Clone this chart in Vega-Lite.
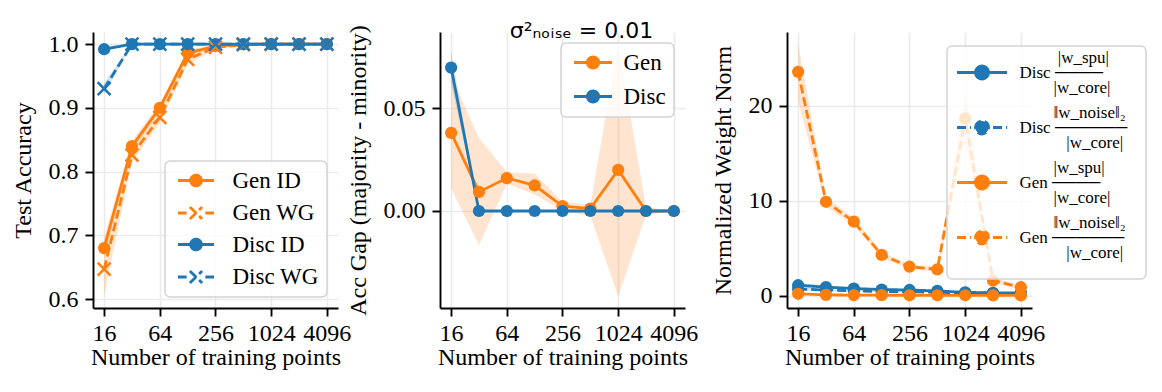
{
  "$schema": "https://vega.github.io/schema/vega-lite/v6.json",
  "background": "white",
  "padding": {"left": 11, "top": 19, "right": 5, "bottom": 5},
  "spacing": 102,
  "bounds": "flush",
  "resolve": {"scale": {"color": "independent", "strokeDash": "independent"}, "legend": {"color": "independent", "strokeDash": "independent"}},
  "config": {
    "view": {"stroke": null},
    "font": "Liberation Serif",
    "axis": {"domainColor": "black", "domainWidth": 1.9, "tickColor": "black", "tickWidth": 1.9, "tickSize": 8, "labelPadding": 7, "labelFont": "Liberation Serif", "labelFontSize": 24, "labelColor": "black", "titleFont": "Liberation Serif", "titleFontSize": 24, "titleFontWeight": "normal", "titleColor": "black", "gridColor": "#ebebeb", "gridWidth": 1.6, "labelOverlap": false, "labelFlush": false},
    "axisX": {"titlePadding": 0, "labelPadding": 5},
    "axisY": {"titlePadding": 13},
    "legend": {"labelFont": "Liberation Serif", "labelColor": "black", "strokeColor": "#d4d4d4", "strokeWidth": 1.5, "fillColor": "rgba(255,255,255,0.8)", "cornerRadius": 5, "padding": 8}
  },
  "datasets": {
    "acc": [
      {"n": 16, "series": "Gen ID", "mean": 0.680, "lo": 0.664, "hi": 0.697},
      {"n": 32, "series": "Gen ID", "mean": 0.840, "lo": 0.832, "hi": 0.848},
      {"n": 64, "series": "Gen ID", "mean": 0.900, "lo": 0.893, "hi": 0.907},
      {"n": 128, "series": "Gen ID", "mean": 0.986, "lo": 0.981, "hi": 0.991},
      {"n": 256, "series": "Gen ID", "mean": 0.997, "lo": 0.995, "hi": 0.999},
      {"n": 512, "series": "Gen ID", "mean": 0.9995, "lo": 0.999, "hi": 1.0},
      {"n": 1024, "series": "Gen ID", "mean": 1.0, "lo": 1.0, "hi": 1.0},
      {"n": 2048, "series": "Gen ID", "mean": 1.0, "lo": 1.0, "hi": 1.0},
      {"n": 4096, "series": "Gen ID", "mean": 1.0, "lo": 1.0, "hi": 1.0},
      {"n": 16, "series": "Gen WG", "mean": 0.647, "lo": 0.605, "hi": 0.690},
      {"n": 32, "series": "Gen WG", "mean": 0.826, "lo": 0.815, "hi": 0.838},
      {"n": 64, "series": "Gen WG", "mean": 0.885, "lo": 0.876, "hi": 0.894},
      {"n": 128, "series": "Gen WG", "mean": 0.976, "lo": 0.968, "hi": 0.984},
      {"n": 256, "series": "Gen WG", "mean": 0.995, "lo": 0.992, "hi": 0.998},
      {"n": 512, "series": "Gen WG", "mean": 0.999, "lo": 0.998, "hi": 1.0},
      {"n": 1024, "series": "Gen WG", "mean": 1.0, "lo": 0.9995, "hi": 1.0},
      {"n": 2048, "series": "Gen WG", "mean": 1.0, "lo": 1.0, "hi": 1.0},
      {"n": 4096, "series": "Gen WG", "mean": 1.0, "lo": 1.0, "hi": 1.0},
      {"n": 16, "series": "Disc ID", "mean": 0.992, "lo": 0.988, "hi": 0.996},
      {"n": 32, "series": "Disc ID", "mean": 1.0, "lo": 1.0, "hi": 1.0},
      {"n": 64, "series": "Disc ID", "mean": 1.0, "lo": 1.0, "hi": 1.0},
      {"n": 128, "series": "Disc ID", "mean": 1.0, "lo": 1.0, "hi": 1.0},
      {"n": 256, "series": "Disc ID", "mean": 1.0, "lo": 1.0, "hi": 1.0},
      {"n": 512, "series": "Disc ID", "mean": 1.0, "lo": 1.0, "hi": 1.0},
      {"n": 1024, "series": "Disc ID", "mean": 1.0, "lo": 1.0, "hi": 1.0},
      {"n": 2048, "series": "Disc ID", "mean": 1.0, "lo": 1.0, "hi": 1.0},
      {"n": 4096, "series": "Disc ID", "mean": 1.0, "lo": 1.0, "hi": 1.0},
      {"n": 16, "series": "Disc WG", "mean": 0.930, "lo": 0.921, "hi": 0.939},
      {"n": 32, "series": "Disc WG", "mean": 1.0, "lo": 1.0, "hi": 1.0},
      {"n": 64, "series": "Disc WG", "mean": 1.0, "lo": 1.0, "hi": 1.0},
      {"n": 128, "series": "Disc WG", "mean": 1.0, "lo": 1.0, "hi": 1.0},
      {"n": 256, "series": "Disc WG", "mean": 1.0, "lo": 1.0, "hi": 1.0},
      {"n": 512, "series": "Disc WG", "mean": 1.0, "lo": 1.0, "hi": 1.0},
      {"n": 1024, "series": "Disc WG", "mean": 1.0, "lo": 1.0, "hi": 1.0},
      {"n": 2048, "series": "Disc WG", "mean": 1.0, "lo": 1.0, "hi": 1.0},
      {"n": 4096, "series": "Disc WG", "mean": 1.0, "lo": 1.0, "hi": 1.0}
    ],
    "gap": [
      {"n": 16, "series": "Gen", "mean": 0.038, "lo": 0.011, "hi": 0.066},
      {"n": 32, "series": "Gen", "mean": 0.0093, "lo": -0.0165, "hi": 0.0355},
      {"n": 64, "series": "Gen", "mean": 0.016, "lo": 0.0132, "hi": 0.0188},
      {"n": 128, "series": "Gen", "mean": 0.0125, "lo": 0.008, "hi": 0.0183},
      {"n": 256, "series": "Gen", "mean": 0.0024, "lo": 0.0, "hi": 0.0045},
      {"n": 512, "series": "Gen", "mean": 0.0012, "lo": -0.0025, "hi": 0.003},
      {"n": 1024, "series": "Gen", "mean": 0.020, "lo": -0.0415, "hi": 0.081},
      {"n": 2048, "series": "Gen", "mean": 0.0, "lo": -0.002, "hi": 0.002},
      {"n": 4096, "series": "Gen", "mean": 0.0, "lo": 0.0, "hi": 0.0},
      {"n": 16, "series": "Disc", "mean": 0.0698, "lo": 0.062, "hi": 0.078},
      {"n": 32, "series": "Disc", "mean": 0.0, "lo": 0.0, "hi": 0.0},
      {"n": 64, "series": "Disc", "mean": 0.0, "lo": 0.0, "hi": 0.0},
      {"n": 128, "series": "Disc", "mean": 0.0, "lo": 0.0, "hi": 0.0},
      {"n": 256, "series": "Disc", "mean": 0.0, "lo": 0.0, "hi": 0.0},
      {"n": 512, "series": "Disc", "mean": 0.0, "lo": 0.0, "hi": 0.0},
      {"n": 1024, "series": "Disc", "mean": 0.0, "lo": 0.0, "hi": 0.0},
      {"n": 2048, "series": "Disc", "mean": 0.0, "lo": 0.0, "hi": 0.0},
      {"n": 4096, "series": "Disc", "mean": 0.0, "lo": 0.0, "hi": 0.0}
    ],
    "norm": [
      {"n": 16, "series": "Disc spu", "mean": 1.1, "lo": 0.8, "hi": 1.4},
      {"n": 32, "series": "Disc spu", "mean": 0.9, "lo": 0.75, "hi": 1.05},
      {"n": 64, "series": "Disc spu", "mean": 0.75, "lo": 0.65, "hi": 0.85},
      {"n": 128, "series": "Disc spu", "mean": 0.65, "lo": 0.55, "hi": 0.75},
      {"n": 256, "series": "Disc spu", "mean": 0.6, "lo": 0.5, "hi": 0.7},
      {"n": 512, "series": "Disc spu", "mean": 0.5, "lo": 0.42, "hi": 0.58},
      {"n": 1024, "series": "Disc spu", "mean": 0.35, "lo": 0.3, "hi": 0.4},
      {"n": 2048, "series": "Disc spu", "mean": 0.3, "lo": 0.25, "hi": 0.35},
      {"n": 4096, "series": "Disc spu", "mean": 0.3, "lo": 0.25, "hi": 0.35},
      {"n": 16, "series": "Disc noise", "mean": 0.7, "lo": 0.55, "hi": 0.85},
      {"n": 32, "series": "Disc noise", "mean": 0.6, "lo": 0.5, "hi": 0.7},
      {"n": 64, "series": "Disc noise", "mean": 0.5, "lo": 0.42, "hi": 0.58},
      {"n": 128, "series": "Disc noise", "mean": 0.45, "lo": 0.38, "hi": 0.52},
      {"n": 256, "series": "Disc noise", "mean": 0.4, "lo": 0.34, "hi": 0.46},
      {"n": 512, "series": "Disc noise", "mean": 0.35, "lo": 0.3, "hi": 0.4},
      {"n": 1024, "series": "Disc noise", "mean": 0.3, "lo": 0.25, "hi": 0.35},
      {"n": 2048, "series": "Disc noise", "mean": 0.25, "lo": 0.2, "hi": 0.3},
      {"n": 4096, "series": "Disc noise", "mean": 0.2, "lo": 0.15, "hi": 0.25},
      {"n": 16, "series": "Gen spu", "mean": 0.2, "lo": 0.15, "hi": 0.25},
      {"n": 32, "series": "Gen spu", "mean": 0.08, "lo": 0.06, "hi": 0.1},
      {"n": 64, "series": "Gen spu", "mean": 0.06, "lo": 0.04, "hi": 0.08},
      {"n": 128, "series": "Gen spu", "mean": 0.05, "lo": 0.03, "hi": 0.07},
      {"n": 256, "series": "Gen spu", "mean": 0.04, "lo": 0.03, "hi": 0.05},
      {"n": 512, "series": "Gen spu", "mean": 0.04, "lo": 0.03, "hi": 0.05},
      {"n": 1024, "series": "Gen spu", "mean": 0.04, "lo": 0.03, "hi": 0.05},
      {"n": 2048, "series": "Gen spu", "mean": 0.03, "lo": 0.02, "hi": 0.04},
      {"n": 4096, "series": "Gen spu", "mean": 0.03, "lo": 0.02, "hi": 0.04},
      {"n": 16, "series": "Gen noise", "mean": 23.6, "lo": 20.5, "hi": 26.6},
      {"n": 32, "series": "Gen noise", "mean": 9.9, "lo": 9.4, "hi": 10.4},
      {"n": 64, "series": "Gen noise", "mean": 7.8, "lo": 7.4, "hi": 8.2},
      {"n": 128, "series": "Gen noise", "mean": 4.3, "lo": 4.0, "hi": 4.6},
      {"n": 256, "series": "Gen noise", "mean": 3.05, "lo": 2.8, "hi": 3.3},
      {"n": 512, "series": "Gen noise", "mean": 2.78, "lo": 2.5, "hi": 3.05},
      {"n": 1024, "series": "Gen noise", "mean": 18.7, "lo": 16.2, "hi": 21.3},
      {"n": 2048, "series": "Gen noise", "mean": 1.58, "lo": 1.3, "hi": 1.9},
      {"n": 4096, "series": "Gen noise", "mean": 0.89, "lo": 0.7, "hi": 1.1}
    ]
  },
  "hconcat": [
    {
      "width": 245, "height": 276,
      "data": {"name": "acc"},
      "encoding": {
        "x": {"field": "n", "type": "quantitative", "title": "Number of training points",
              "scale": {"type": "log", "base": 2, "domain": [12.13, 5405], "nice": false, "zero": false},
              "axis": {"values": [16, 64, 256, 1024, 4096], "format": "d"}}
      },
      "layer": [
        {"mark": {"type": "area", "opacity": 0.2},
         "encoding": {
           "y": {"field": "lo", "type": "quantitative", "title": "Test Accuracy", "scale": {"domain": [0.586, 1.019], "nice": false, "zero": false}, "axis": {"values": [0.6, 0.7, 0.8, 0.9, 1.0], "format": ".1f"}},
           "y2": {"field": "hi"},
           "color": {"field": "series", "type": "nominal", "scale": {"domain": ["Gen ID", "Gen WG", "Disc ID", "Disc WG"], "range": ["#ff7f0e", "#ff7f0e", "#1f77b4", "#1f77b4"]}}
         }},
        {"mark": {"type": "line", "strokeWidth": 2.8},
         "encoding": {
           "y": {"field": "mean", "type": "quantitative", "title": "Test Accuracy"},
           "color": {"field": "series", "type": "nominal", "scale": {"domain": ["Gen ID", "Gen WG", "Disc ID", "Disc WG"], "range": ["#ff7f0e", "#ff7f0e", "#1f77b4", "#1f77b4"]},
             "legend": {"title": null, "orient": "bottom-right", "offset": 11, "symbolSize": 100, "symbolStrokeWidth": 2.8, "symbolOffset": 11.5, "labelFontSize": 23, "labelOffset": 25, "rowPadding": 7.5,
               "encode": {"symbols": {"update": {
                 "size": {"value": 100},
                 "shape": {"signal": "indexof(['Gen WG','Disc WG'], datum.value) >= 0 ? 'M-3.6,0L-1.87,0M1.87,0L3.6,0M-1.22,-1.22L1.22,1.22M-1.22,1.22L1.22,-1.22' : 'M-3.6,0L3.6,0M-1.08,0A1.08,1.08,0,1,1,1.08,0A1.08,1.08,0,1,1,-1.08,0Z'"},
                 "fill": {"signal": "indexof(['Gen WG','Disc WG'], datum.value) >= 0 ? 'transparent' : (indexof(['Gen ID','Gen WG'], datum.value) >= 0 ? '#ff7f0e' : '#1f77b4')"},
                 "stroke": {"signal": "indexof(['Gen ID','Gen WG'], datum.value) >= 0 ? '#ff7f0e' : '#1f77b4'"},
                 "strokeDash": {"value": [1, 0]},
                 "opacity": {"value": 1}
               }}}}},
           "strokeDash": {"field": "series", "type": "nominal", "scale": {"domain": ["Gen ID", "Gen WG", "Disc ID", "Disc WG"], "range": [[1, 0], [9, 4], [1, 0], [9, 4]]}}
         }},
        {"transform": [{"filter": {"field": "series", "oneOf": ["Gen ID", "Disc ID"]}}],
         "mark": {"type": "point", "filled": true, "size": 150, "opacity": 1, "shape": "circle"},
         "encoding": {
           "y": {"field": "mean", "type": "quantitative", "title": "Test Accuracy"},
           "color": {"field": "series", "type": "nominal", "scale": {"domain": ["Gen ID", "Gen WG", "Disc ID", "Disc WG"], "range": ["#ff7f0e", "#ff7f0e", "#1f77b4", "#1f77b4"]}}
         }},
        {"transform": [{"filter": {"field": "series", "oneOf": ["Gen WG", "Disc WG"]}}],
         "mark": {"type": "point", "filled": false, "size": 104, "strokeWidth": 2.5, "opacity": 1, "shape": "M-1.27,-1.27L1.27,1.27M-1.27,1.27L1.27,-1.27"},
         "encoding": {
           "y": {"field": "mean", "type": "quantitative", "title": "Test Accuracy"},
           "color": {"field": "series", "type": "nominal", "scale": {"domain": ["Gen ID", "Gen WG", "Disc ID", "Disc WG"], "range": ["#ff7f0e", "#ff7f0e", "#1f77b4", "#1f77b4"]}}
         }}
      ]
    },
    {
      "width": 245, "height": 276,
      "title": {"text": "σ²ₙₒᵢₛₑ = 0.01", "font": "DejaVu Sans", "fontSize": 22, "fontWeight": "normal", "color": "black", "anchor": "middle", "baseline": "alphabetic", "offset": -35, "dx": 19},
      "data": {"name": "gap"},
      "encoding": {
        "x": {"field": "n", "type": "quantitative", "title": "Number of training points",
              "scale": {"type": "log", "base": 2, "domain": [12.13, 5405], "nice": false, "zero": false},
              "axis": {"values": [16, 64, 256, 1024, 4096], "format": "d"}}
      },
      "layer": [
        {"mark": {"type": "area", "opacity": 0.2},
         "encoding": {
           "y": {"field": "lo", "type": "quantitative", "title": "Acc Gap (majority - minority)", "scale": {"domain": [-0.0472, 0.0871], "nice": false, "zero": false}, "axis": {"values": [0, 0.05], "format": ".2f"}},
           "y2": {"field": "hi"},
           "color": {"field": "series", "type": "nominal", "scale": {"domain": ["Gen", "Disc"], "range": ["#ff7f0e", "#1f77b4"]}}
         }},
        {"mark": {"type": "line", "strokeWidth": 2.8},
         "encoding": {
           "y": {"field": "mean", "type": "quantitative", "title": "Acc Gap (majority - minority)"},
           "color": {"field": "series", "type": "nominal", "scale": {"domain": ["Gen", "Disc"], "range": ["#ff7f0e", "#1f77b4"]},
             "legend": {"title": null, "orient": "top-right", "offset": 11, "symbolSize": 100, "symbolStrokeWidth": 2.8, "symbolOffset": 12.5, "labelFontSize": 23, "labelOffset": 19, "rowPadding": 10,
               "encode": {"symbols": {"update": {
                 "size": {"value": 100},
                 "shape": {"value": "M-3.8,0L3.8,0M-1.14,0A1.14,1.14,0,1,1,1.14,0A1.14,1.14,0,1,1,-1.14,0Z"},
                 "fill": {"signal": "datum.value == 'Gen' ? '#ff7f0e' : '#1f77b4'"},
                 "stroke": {"signal": "datum.value == 'Gen' ? '#ff7f0e' : '#1f77b4'"},
                 "opacity": {"value": 1}
               }}}}}
         }},
        {"mark": {"type": "point", "filled": true, "size": 150, "opacity": 1, "shape": "circle"},
         "encoding": {
           "y": {"field": "mean", "type": "quantitative", "title": "Acc Gap (majority - minority)"},
           "color": {"field": "series", "type": "nominal", "scale": {"domain": ["Gen", "Disc"], "range": ["#ff7f0e", "#1f77b4"]}}
         }}
      ]
    },
    {
      "width": 245, "height": 276,
      "data": {"name": "norm"},
      "encoding": {
        "x": {"field": "n", "type": "quantitative", "title": "Number of training points",
              "scale": {"type": "log", "base": 2, "domain": [12.13, 5405], "nice": false, "zero": false},
              "axis": {"values": [16, 64, 256, 1024, 4096], "format": "d"}}
      },
      "layer": [
        {"mark": {"type": "area", "opacity": 0.2},
         "encoding": {
           "y": {"field": "lo", "type": "quantitative", "title": "Normalized Weight Norm", "scale": {"domain": [-1.3, 27.8], "nice": false, "zero": false}, "axis": {"values": [0, 10, 20], "format": "d"}},
           "y2": {"field": "hi"},
           "color": {"field": "series", "type": "nominal", "scale": {"domain": ["Disc spu", "Disc noise", "Gen spu", "Gen noise"], "range": ["#1f77b4", "#1f77b4", "#ff7f0e", "#ff7f0e"]}}
         }},
        {"mark": {"type": "line", "strokeWidth": 2.8},
         "encoding": {
           "y": {"field": "mean", "type": "quantitative", "title": "Normalized Weight Norm"},
           "color": {"field": "series", "type": "nominal", "scale": {"domain": ["Disc spu", "Disc noise", "Gen spu", "Gen noise"], "range": ["#1f77b4", "#1f77b4", "#ff7f0e", "#ff7f0e"]},
             "legend": {"title": null, "orient": "none", "legendX": 160, "legendY": 14, "padding": 18, "symbolSize": 100, "symbolStrokeWidth": 2.8, "symbolOffset": 8.5, "labelFontSize": 17, "labelOffset": 29, "rowPadding": 7,
               "labelExpr": "datum.value == 'Disc spu' ? ['\u200b\u00a0\u00a0\u00a0\u00a0\u00a0\u00a0\u00a0\u00a0\u00a0|w_spu|', 'Disc\u00a0────', '\u200b\u00a0\u00a0\u00a0\u00a0\u00a0\u00a0\u00a0\u00a0|w_core|'] : datum.value == 'Disc noise' ? ['\u200b\u00a0\u00a0\u00a0\u00a0\u00a0\u00a0\u00a0\u00a0‖w_noise‖₂', 'Disc\u00a0──────', '\u200b\u00a0\u00a0\u00a0\u00a0\u00a0\u00a0\u00a0\u00a0\u00a0\u00a0\u00a0|w_core|'] : datum.value == 'Gen spu' ? ['\u200b\u00a0\u00a0\u00a0\u00a0\u00a0\u00a0\u00a0\u00a0|w_spu|', 'Gen\u00a0────', '\u200b\u00a0\u00a0\u00a0\u00a0\u00a0\u00a0\u00a0\u00a0|w_core|'] : ['\u200b\u00a0\u00a0\u00a0\u00a0\u00a0\u00a0\u00a0\u00a0‖w_noise‖₂', 'Gen\u00a0──────', '\u200b\u00a0\u00a0\u00a0\u00a0\u00a0\u00a0\u00a0\u00a0\u00a0\u00a0\u00a0|w_core|']",
               "encode": {
                 "labels": {"update": {"lineHeight": {"value": 15}, "dy": {"value": -15}}},
                 "symbols": {"update": {
                 "size": {"value": 100},
                 "shape": {"signal": "indexof(['Disc noise','Gen noise'], datum.value) >= 0 ? 'M-5,0L-2.2,0M2.2,0L5,0M-1.3,0A1.3,1.3,0,1,1,1.3,0A1.3,1.3,0,1,1,-1.3,0Z' : 'M-5,0L5,0M-1.3,0A1.3,1.3,0,1,1,1.3,0A1.3,1.3,0,1,1,-1.3,0Z'"},
                 "fill": {"signal": "indexof(['Disc spu','Disc noise'], datum.value) >= 0 ? '#1f77b4' : '#ff7f0e'"},
                 "stroke": {"signal": "indexof(['Disc spu','Disc noise'], datum.value) >= 0 ? '#1f77b4' : '#ff7f0e'"},
                 "strokeDash": {"value": [1, 0]},
                 "opacity": {"value": 1}
               }}}}},
           "strokeDash": {"field": "series", "type": "nominal", "scale": {"domain": ["Disc spu", "Disc noise", "Gen spu", "Gen noise"], "range": [[1, 0], [9, 4], [1, 0], [9, 4]]}}
         }},
        {"mark": {"type": "point", "filled": true, "size": 150, "opacity": 1, "shape": "circle"},
         "encoding": {
           "y": {"field": "mean", "type": "quantitative", "title": "Normalized Weight Norm"},
           "color": {"field": "series", "type": "nominal", "scale": {"domain": ["Disc spu", "Disc noise", "Gen spu", "Gen noise"], "range": ["#1f77b4", "#1f77b4", "#ff7f0e", "#ff7f0e"]}}
         }}
      ]
    }
  ]
}
